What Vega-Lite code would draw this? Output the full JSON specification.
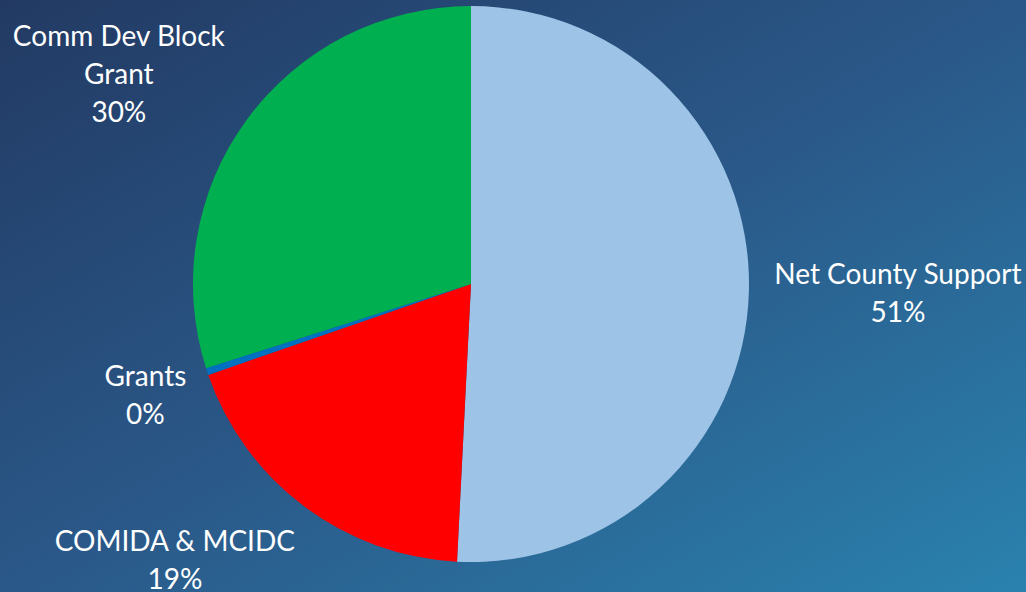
{
  "$schema": "https://vega.github.io/schema/vega-lite/v6.json",
  "width": 942,
  "height": 568,
  "autosize": "none",
  "padding": {"left": 0, "top": 0, "right": 84, "bottom": 24},
  "background": "#2a6898",
  "config": {
    "view": {"stroke": null},
    "text": {"font": "Lato", "fontSize": 28, "fill": "white", "lineHeight": 38}
  },
  "data": {
    "values": [
      {"source": "Net County Support", "share": 0.508, "seq": 1},
      {"source": "COMIDA & MCIDC", "share": 0.189, "seq": 2},
      {"source": "Grants", "share": 0.004, "seq": 3},
      {"source": "Comm Dev Block Grant", "share": 0.299, "seq": 4}
    ]
  },
  "transform": [
    {"stack": "share", "groupby": [], "sort": [{"field": "seq"}], "as": ["s0", "s1"]},
    {"calculate": "(datum.s0 + datum.s1) / 2", "as": "mid"},
    {"calculate": "replace(datum.source, 'Block ', 'Block\\n') + '\\n' + format(datum.share, '.0%')", "as": "label"}
  ],
  "layer": [
    {
      "data": {"values": [{"bg": 1}]},
      "mark": {
        "type": "rect",
        "x": 0,
        "y": 0,
        "x2": {"expr": "width + 84"},
        "y2": {"expr": "height + 24"},
        "color": {
          "gradient": "linear",
          "x1": 0, "y1": 0, "x2": 1, "y2": 1,
          "stops": [
            {"offset": 0, "color": "#223a63"},
            {"offset": 0.5, "color": "#2a5888"},
            {"offset": 1, "color": "#2a82ae"}
          ]
        }
      },
      "transform": []
    },
    {
      "mark": {"type": "arc", "outerRadius": 278},
      "encoding": {
        "theta": {"field": "s0", "type": "quantitative", "scale": {"domain": [0, 1]}},
        "theta2": {"field": "s1"},
        "color": {
          "field": "source",
          "type": "nominal",
          "legend": null,
          "scale": {
            "domain": ["Net County Support", "COMIDA & MCIDC", "Grants", "Comm Dev Block Grant"],
            "range": ["#9dc3e6", "#ff0000", "#0070c0", "#00b050"]
          }
        }
      }
    },
    {
      "transform": [{"filter": "datum.source === 'Net County Support'"}],
      "mark": {"type": "text", "radius": 427, "dy": -19, "lineBreak": "\n", "align": "center", "baseline": "middle"},
      "encoding": {
        "theta": {"field": "mid", "type": "quantitative", "scale": {"domain": [0, 1]}},
        "text": {"field": "label"}
      }
    },
    {
      "transform": [{"filter": "datum.source === 'Grants'"}],
      "mark": {"type": "text", "radius": 343, "dy": -14, "lineBreak": "\n", "align": "center", "baseline": "middle"},
      "encoding": {
        "theta": {"field": "mid", "type": "quantitative", "scale": {"domain": [0, 1]}},
        "text": {"field": "label"}
      }
    },
    {
      "transform": [{"filter": "datum.source === 'COMIDA & MCIDC'"}],
      "mark": {"type": "text", "radius": 345, "dx": -89, "dy": -17, "lineBreak": "\n", "align": "center", "baseline": "middle"},
      "encoding": {
        "theta": {"field": "mid", "type": "quantitative", "scale": {"domain": [0, 1]}},
        "text": {"field": "label"}
      }
    },
    {
      "transform": [{"filter": "datum.source === 'Comm Dev Block Grant'"}],
      "mark": {"type": "text", "radius": 357, "dx": -64, "dy": -35, "lineBreak": "\n", "align": "center", "baseline": "middle"},
      "encoding": {
        "theta": {"field": "mid", "type": "quantitative", "scale": {"domain": [0, 1]}},
        "text": {"field": "label"}
      }
    }
  ]
}
